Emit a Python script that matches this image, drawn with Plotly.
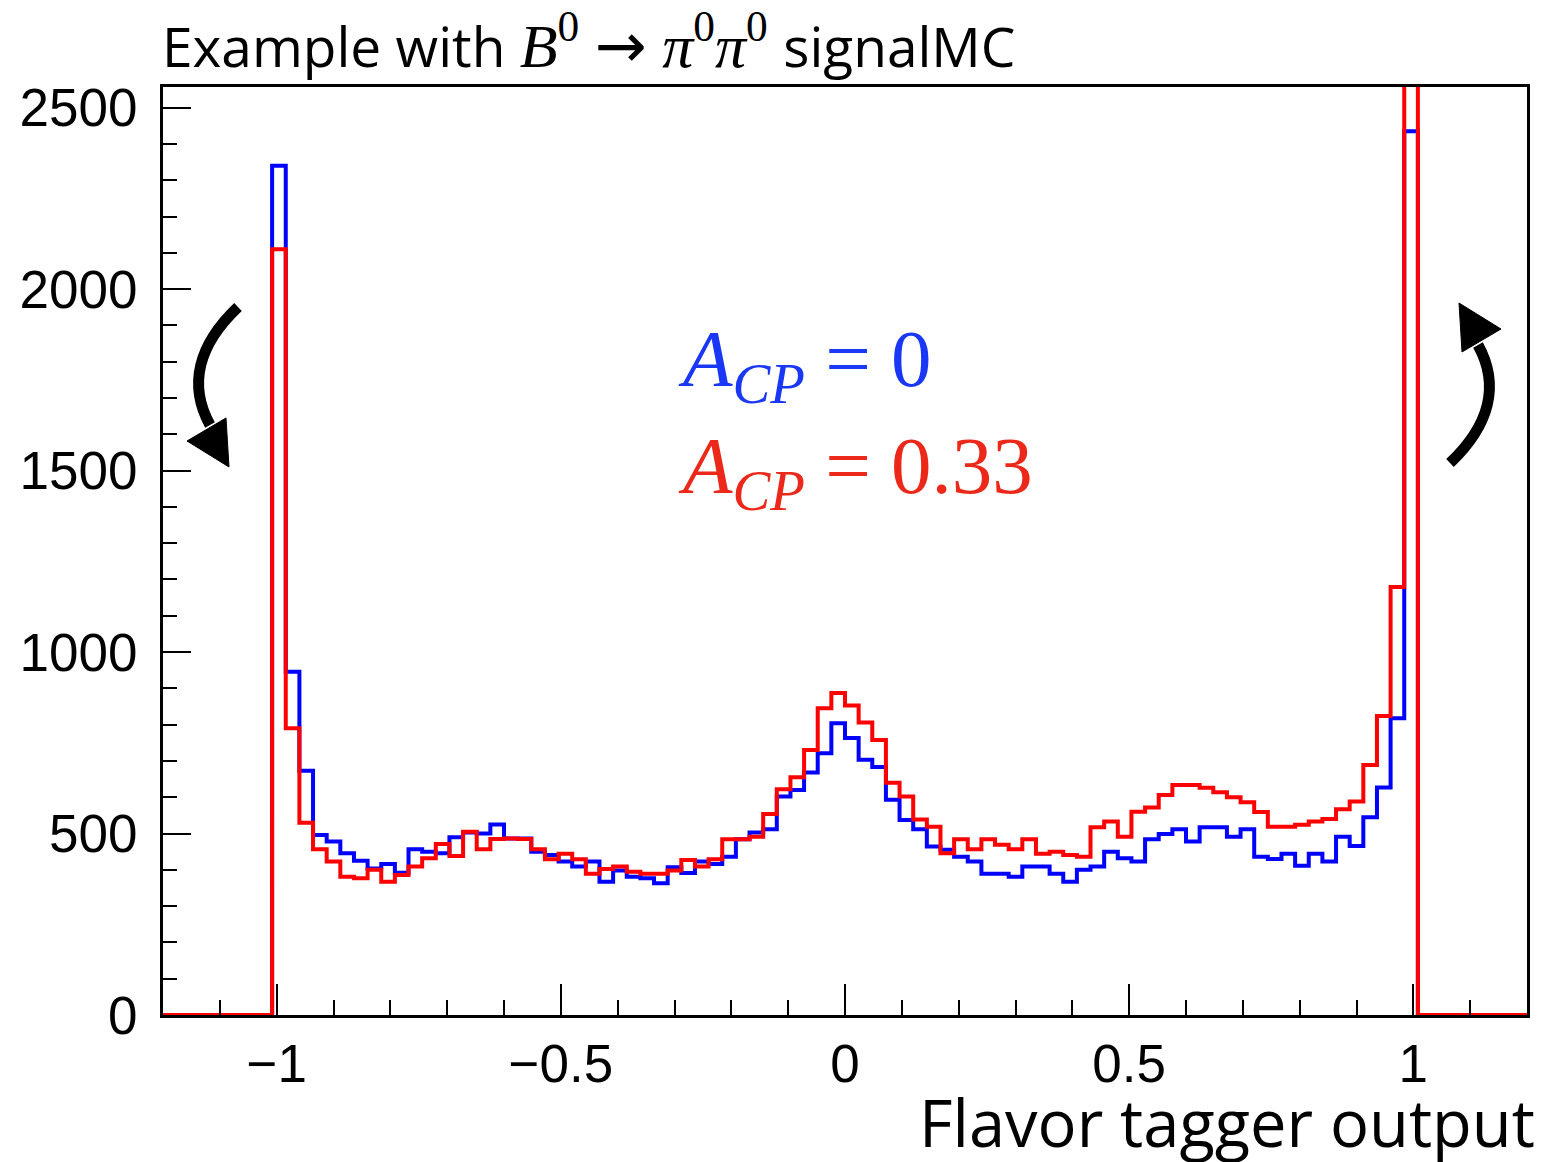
import plotly.graph_objects as go

# ---------------- data ----------------
bin_lo, bin_hi, n_bins = -1.2, 1.2, 100
first_filled_bin = 8  # bins 0..7 and 92..99 are empty

counts_acp0 = [2340, 946, 673, 496, 478, 446, 425, 404, 416, 392,
               457, 450, 446, 490, 503, 500, 525, 486, 486, 450,
               441, 423, 409, 423, 367, 398, 381, 377, 363, 407,
               391, 423, 416, 436, 484, 503, 512, 602, 620, 668,
               721, 804, 763, 703, 683, 593, 537, 512, 464, 455,
               436, 423, 389, 389, 381, 409, 409, 389, 367, 400,
               409, 450, 432, 423, 484, 499, 512, 478, 517, 517,
               491, 512, 436, 430, 444, 411, 444, 423, 491, 466,
               545, 627, 818, 2435]
counts_acp033 = [2110, 790, 530, 457, 423, 381, 377, 400, 367, 386,
                 409, 432, 471, 438, 505, 457, 485, 486, 485, 457,
                 429, 444, 429, 389, 402, 409, 395, 389, 389, 398,
                 427, 409, 429, 484, 484, 491, 554, 622, 655, 730,
                 845, 887, 853, 806, 758, 640, 602, 539, 519, 446,
                 484, 457, 484, 469, 457, 484, 444, 450, 441, 436,
                 517, 533, 491, 560, 572, 606, 634, 634, 626, 614,
                 600, 586, 559, 519, 519, 524, 533, 540, 567, 588,
                 689, 824, 1179, 2900]

x_ticks = [-1, -0.5, 0, 0.5, 1]
x_tick_text = ["\u22121", "\u22120.5", "0", "0.5", "1"]
y_ticks = [0, 500, 1000, 1500, 2000, 2500]
y_max = 2557

# ---------------- build step histograms ----------------
width = (bin_hi - bin_lo) / n_bins
edges = [bin_lo + i * width for i in range(n_bins + 1)]


def full(counts):
    arr = [0] * n_bins
    for i, c in enumerate(counts):
        arr[first_filled_bin + i] = c
    return arr


def step(counts):
    c = full(counts)
    return edges, c + [c[-1]]


fig = go.Figure()
for counts, col in [(counts_acp0, "#0000ff"), (counts_acp033, "#ff0000")]:
    xs, ys = step(counts)
    fig.add_trace(go.Scatter(x=xs, y=ys, mode="lines", line_shape="hv",
                             line=dict(color=col, width=4), showlegend=False,
                             hoverinfo="skip"))

# ---------------- layout ----------------
# page has an 8px body margin; plot area should sit at page x 163..1527, y 87..1015
OFF = 8
PL, PR, PT, PB = 163, 1527, 87, 1015
W, H = 1545 - OFF, 1162 - OFF
L, T = PL - OFF, PT - OFF
R, B = (W + OFF) - PR, (H + OFF) - PB
pw, ph = PR - PL, PB - PT


def px(xp):
    return (xp - PL) / pw


def py(yp):
    return (PB - yp) / ph


tickfont = dict(family="Liberation Sans, Arial, sans-serif", size=53, color="black")

fig.update_layout(
    width=W, height=H,
    margin=dict(l=L, r=R, t=T, b=B, autoexpand=False),
    paper_bgcolor="white", plot_bgcolor="white",
    xaxis=dict(range=[bin_lo, bin_hi], tickvals=x_ticks, ticktext=x_tick_text,
               ticks="inside", ticklen=31, tickwidth=2, tickcolor="black",
               minor=dict(dtick=0.1, tick0=0, ticks="inside", ticklen=15,
                          tickwidth=2, tickcolor="black"),
               showline=True, linewidth=3, linecolor="black", mirror=True,
               showgrid=False, zeroline=False, tickfont=tickfont,
               ticklabelstandoff=0),
    yaxis=dict(range=[0, y_max], tickvals=y_ticks,
               ticks="inside", ticklen=28, tickwidth=2, tickcolor="black",
               minor=dict(dtick=100, tick0=0, ticks="inside", ticklen=14,
                          tickwidth=2, tickcolor="black"),
               showline=True, linewidth=3, linecolor="black", mirror=True,
               showgrid=False, zeroline=False, tickfont=tickfont,
               ticklabelstandoff=12),
)

serif = "font-family:Liberation Serif;font-size:62px"
arrow_style = "font-family:DejaVu Sans;font-size:62px"
title = ("Example with <span style='" + serif + "'><i>B</i><sup>0</sup> </span>"
         "<span style='" + arrow_style + "'>\u2192</span>"
         "<span style='" + serif + "'> <i>\u03c0</i><sup>0</sup><i>\u03c0</i><sup>0</sup> </span>"
         "signalMC")
fig.add_annotation(text=title, xref="paper", yref="paper", x=px(160), y=py(85),
                   xanchor="left", yanchor="bottom", showarrow=False,
                   font=dict(family="Open Sans, sans-serif", size=55, color="black"))

fig.add_annotation(text="Flavor tagger output", xref="paper", yref="paper",
                   x=px(1537), y=py(1168), xanchor="right", yanchor="bottom",
                   showarrow=False,
                   font=dict(family="Open Sans, sans-serif", size=65, color="black"))

for txt, col, yc in [("<i>A</i><sub><i>CP</i></sub> = 0", "rgb(25,55,245)", 365),
                     ("<i>A</i><sub><i>CP</i></sub> = 0.33", "rgb(235,40,25)", 472)]:
    fig.add_annotation(text=txt, xref="paper", yref="paper", x=px(676), y=py(yc),
                       xanchor="left", yanchor="middle", showarrow=False,
                       font=dict(family="Liberation Serif, serif", size=81, color=col))


# curved arrows (decorations), defined in page-pixel space
def P(x, y):
    return f"{px(x):.5f},{py(y):.5f}"


arrows = [
    # left arrow: tail at top, head pointing down
    (f"M {P(238,307)} C {P(198,345)} {P(188,385)} {P(210,425)}",
     f"M {P(229,467)} L {P(187,441)} L {P(226,418)} Z"),
    # right arrow: tail at bottom, head pointing up
    (f"M {P(1450,463)} C {P(1490,425)} {P(1500,385)} {P(1478,345)}",
     f"M {P(1459,303)} L {P(1501,329)} L {P(1462,352)} Z"),
]
for curve, head in arrows:
    fig.add_shape(type="path", path=curve, xref="paper", yref="paper",
                  line=dict(color="black", width=11))
    fig.add_shape(type="path", path=head, xref="paper", yref="paper",
                  line=dict(color="black", width=1), fillcolor="black")

fig.write_html("out.html")
